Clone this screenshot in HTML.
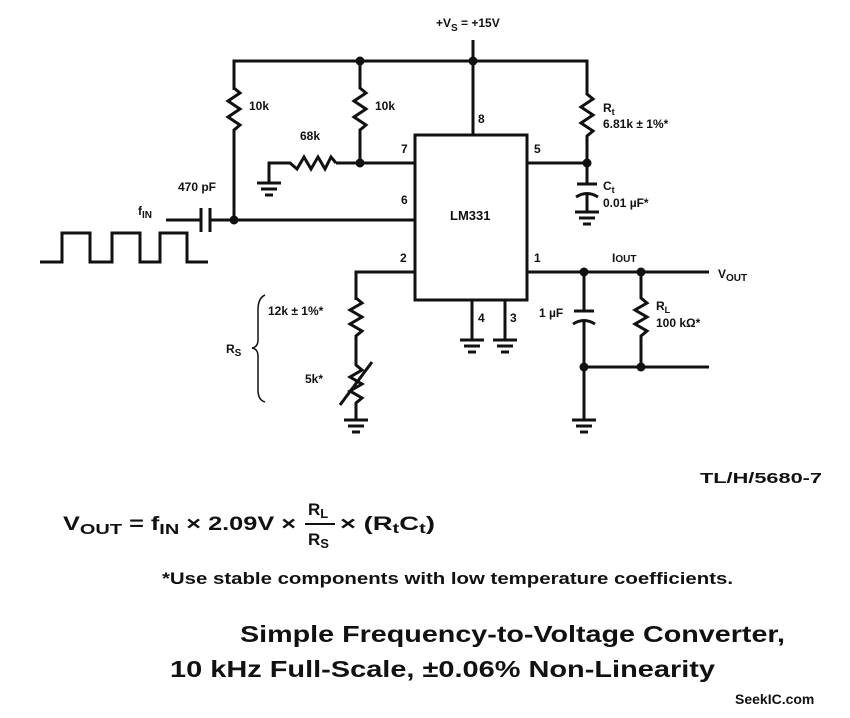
<!DOCTYPE html>
<html><head><style>
body{margin:0;background:#fff;}
svg{display:block}
text{font-family:"Liberation Sans",sans-serif;font-weight:bold;fill:#111}
</style></head><body>
<svg width="850" height="718" viewBox="0 0 850 718">
<defs>
<g id="g"><line x1="-12" y1="0" x2="12" y2="0"/><line x1="-8" y1="6" x2="8" y2="6"/><line x1="-4" y1="12" x2="4" y2="12"/></g>
</defs>
<g stroke="#111" stroke-width="3" fill="none" stroke-linejoin="miter">
<polyline points="234,90 234,61 587,61 587,90"/>
<line x1="473" y1="40" x2="473" y2="135"/>
<line x1="360" y1="61" x2="360" y2="84"/>
<polyline points="234,84 234,88 240,93 228,101 240,109 228,117 240,125 234,130 234,220"/>
<polyline points="360,84 360,88 366,93 354,101 366,109 354,117 366,125 360,130 360,163"/>
<line x1="336" y1="163" x2="415" y2="163"/>
<polyline points="336,163 331,157 325,169 318,157 311,169 304,157 297,169 290,163 269,163 269,183"/>
<line x1="210" y1="220" x2="415" y2="220"/>
<line x1="166" y1="220" x2="201" y2="220"/>
<line x1="201" y1="208" x2="201" y2="232"/>
<line x1="210" y1="208" x2="210" y2="232"/>
<rect x="415" y="135" width="112" height="165"/>
<polyline points="587,90 587,94 593,99 581,107 593,115 581,123 593,131 587,136 587,184"/>
<line x1="527" y1="163" x2="587" y2="163"/>
<line x1="577" y1="184" x2="597" y2="184"/>
<path d="M576,197 Q587,190 598,197"/>
<line x1="587" y1="193" x2="587" y2="212"/>
<polyline points="415,272 356,272 356,300"/>
<polyline points="356,298 362,303 350,310 362,317 350,324 362,331 356,336 356,365 362,370 350,377 362,384 350,391 362,398 356,403 356,420"/>
<line x1="340" y1="405" x2="372" y2="362"/>
<line x1="527" y1="272" x2="709" y2="272"/>
<line x1="584" y1="272" x2="584" y2="311"/>
<line x1="574" y1="311" x2="594" y2="311"/>
<path d="M573,324 Q584,317 595,324"/>
<line x1="584" y1="320" x2="584" y2="420"/>
<line x1="584" y1="367" x2="709" y2="367"/>
<polyline points="641,272 641,298 647,303 635,310 647,317 635,324 647,331 641,336 641,367"/>
<line x1="472" y1="300" x2="472" y2="340"/>
<line x1="505" y1="300" x2="505" y2="340"/>
<polyline points="40,262 62,262 62,233 90,233 90,262 112,262 112,233 140,233 140,262 160,262 160,233 187,233 187,262 208,262"/>
<path d="M265,295 Q258,298 258,310 L258,340 Q258,347 252,348 Q258,349 258,356 L258,390 Q258,400 265,402" stroke-width="1.5"/>
</g>
<g stroke="#111" stroke-width="3">
<use href="#g" x="269" y="183"/><use href="#g" x="587" y="212"/><use href="#g" x="356" y="420"/>
<use href="#g" x="584" y="420"/><use href="#g" x="472" y="340"/><use href="#g" x="505" y="340"/>
</g>
<g fill="#111">
<circle cx="360" cy="61" r="4.5"/><circle cx="473" cy="61" r="4.5"/><circle cx="360" cy="163" r="4.5"/>
<circle cx="234" cy="220" r="4.5"/><circle cx="587" cy="163" r="4.5"/><circle cx="584" cy="272" r="4.5"/>
<circle cx="641" cy="272" r="4.5"/><circle cx="584" cy="367" r="4.5"/><circle cx="641" cy="367" r="4.5"/>
</g>
<g font-size="12">
<text x="436" y="27">+V<tspan font-size="10" dy="4">S</tspan><tspan dy="-4"> = +15V</tspan></text>
<text x="249" y="110">10k</text><text x="375" y="110">10k</text>
<text x="300" y="140">68k</text>
<text x="478" y="123">8</text><text x="401" y="153">7</text><text x="534" y="153">5</text>
<text x="401" y="204">6</text><text x="400" y="262">2</text><text x="534" y="262">1</text>
<text x="478" y="322">4</text><text x="510" y="322">3</text>
<text x="178" y="191">470 pF</text>
<text x="138" y="215">f<tspan font-size="10" dy="3">IN</tspan></text>
<text x="603" y="112">R<tspan font-size="9" dy="3">t</tspan></text>
<text x="603" y="128">6.81k ± 1%*</text>
<text x="603" y="190">C<tspan font-size="9" dy="3">t</tspan></text>
<text x="603" y="207">0.01 µF*</text>
<text x="450" y="220" font-size="13">LM331</text>
<text x="612" y="262">I<tspan font-size="10">OUT</tspan></text>
<text x="718" y="278">V<tspan font-size="10" dy="3">OUT</tspan></text>
<text x="539" y="317">1 µF</text>
<text x="656" y="310">R<tspan font-size="9" dy="3">L</tspan></text>
<text x="656" y="327">100 kΩ*</text>
<text x="268" y="315">12k ± 1%*</text>
<text x="226" y="353">R<tspan font-size="10" dy="3">S</tspan></text>
<text x="305" y="383">5k*</text>
<text x="700" y="483" font-size="15" font-weight="normal" textLength="122" lengthAdjust="spacingAndGlyphs">TL/H/5680-7</text>
<text x="63" y="530" font-size="19" font-weight="normal" textLength="233" lengthAdjust="spacingAndGlyphs">V<tspan font-size="15" dy="4">OUT</tspan><tspan dy="-4"> = f</tspan><tspan font-size="15" dy="4">IN</tspan><tspan dy="-4"> × 2.09V ×</tspan></text>
<text x="308" y="515" font-size="17" font-weight="normal">R<tspan font-size="13" dy="3">L</tspan></text>
<line x1="305" y1="524" x2="335" y2="524" stroke="#111" stroke-width="2"/>
<text x="308" y="545" font-size="17" font-weight="normal">R<tspan font-size="13" dy="3">S</tspan></text>
<text x="340" y="530" font-size="19" font-weight="normal" textLength="95" lengthAdjust="spacingAndGlyphs">× (R<tspan font-size="14" dy="3">t</tspan><tspan dy="-3">C</tspan><tspan font-size="14" dy="3">t</tspan><tspan dy="-3">)</tspan></text>
<text x="162" y="584" font-size="17" font-weight="normal" textLength="571" lengthAdjust="spacingAndGlyphs">*Use stable components with low temperature coefficients.</text>
<text x="240" y="642" font-size="23" textLength="545" lengthAdjust="spacingAndGlyphs">Simple Frequency-to-Voltage Converter,</text>
<text x="170" y="677" font-size="23" textLength="545" lengthAdjust="spacingAndGlyphs">10 kHz Full-Scale, ±0.06% Non-Linearity</text>
<text x="735" y="704" font-size="14" fill="#555">SeekIC.com</text>
</g>
</svg>
</body></html>
